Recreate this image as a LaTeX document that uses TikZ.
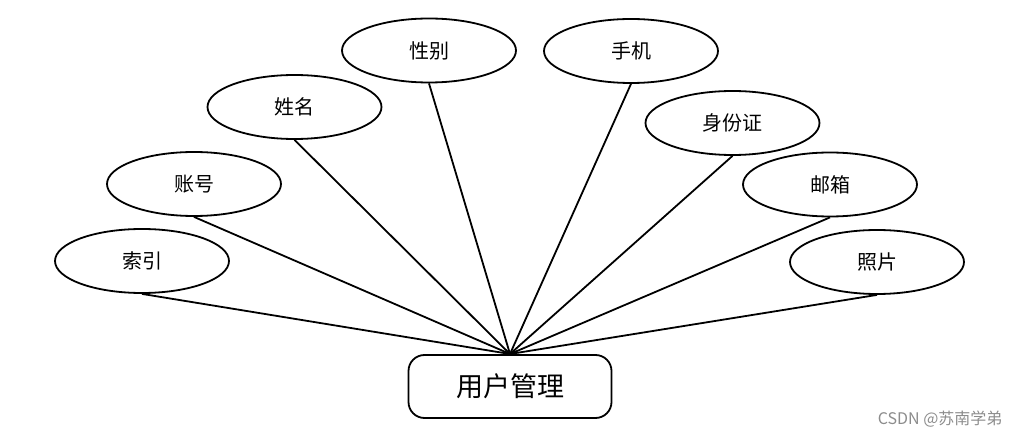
\documentclass[tikz,border=0pt]{standalone}
\usepackage{fontspec}
\newfontfamily\cjk{Noto Sans CJK SC}
\usetikzlibrary{shapes.geometric}
\tikzset{
  attr/.style={ellipse,draw=black,line width=1.8pt,fill=white,minimum width=174pt,minimum height=64pt,inner sep=0pt,font=\cjk\fontsize{20}{20}\selectfont},
  ent/.style={rounded corners=16pt,draw=black,line width=1.8pt,fill=white,minimum width=203pt,minimum height=63pt,inner sep=0pt,font=\cjk\fontsize{27}{27}\selectfont},
  link/.style={line width=1.8pt}
}
\begin{document}
\begin{tikzpicture}[x=1pt,y=-1pt]
\useasboundingbox (0,0) rectangle (1018,438);
\node[ent] (um) at (510,386.5) {用户管理};
\coordinate (hub) at (510,354);
\node[attr] (a1) at (142,261) {索引};
\node[attr] (a2) at (194,184) {账号};
\node[attr] (a3) at (294.5,107) {姓名};
\node[attr] (a4) at (429,50.5) {性别};
\node[attr] (a5) at (631,51) {手机};
\node[attr] (a6) at (732.5,123) {身份证};
\node[attr] (a7) at (830,184.5) {邮箱};
\node[attr] (a8) at (877,262) {照片};
\foreach \n in {a1,a2,a3,a4,a5,a6,a7,a8}{
  \draw[link] (\n.south) -- (hub);
}
\node[font=\cjk\fontsize{16}{16}\selectfont,text=black!45,anchor=east] (wm) at (1006,419) {CSDN @苏南学弟};
\end{tikzpicture}
\end{document}
